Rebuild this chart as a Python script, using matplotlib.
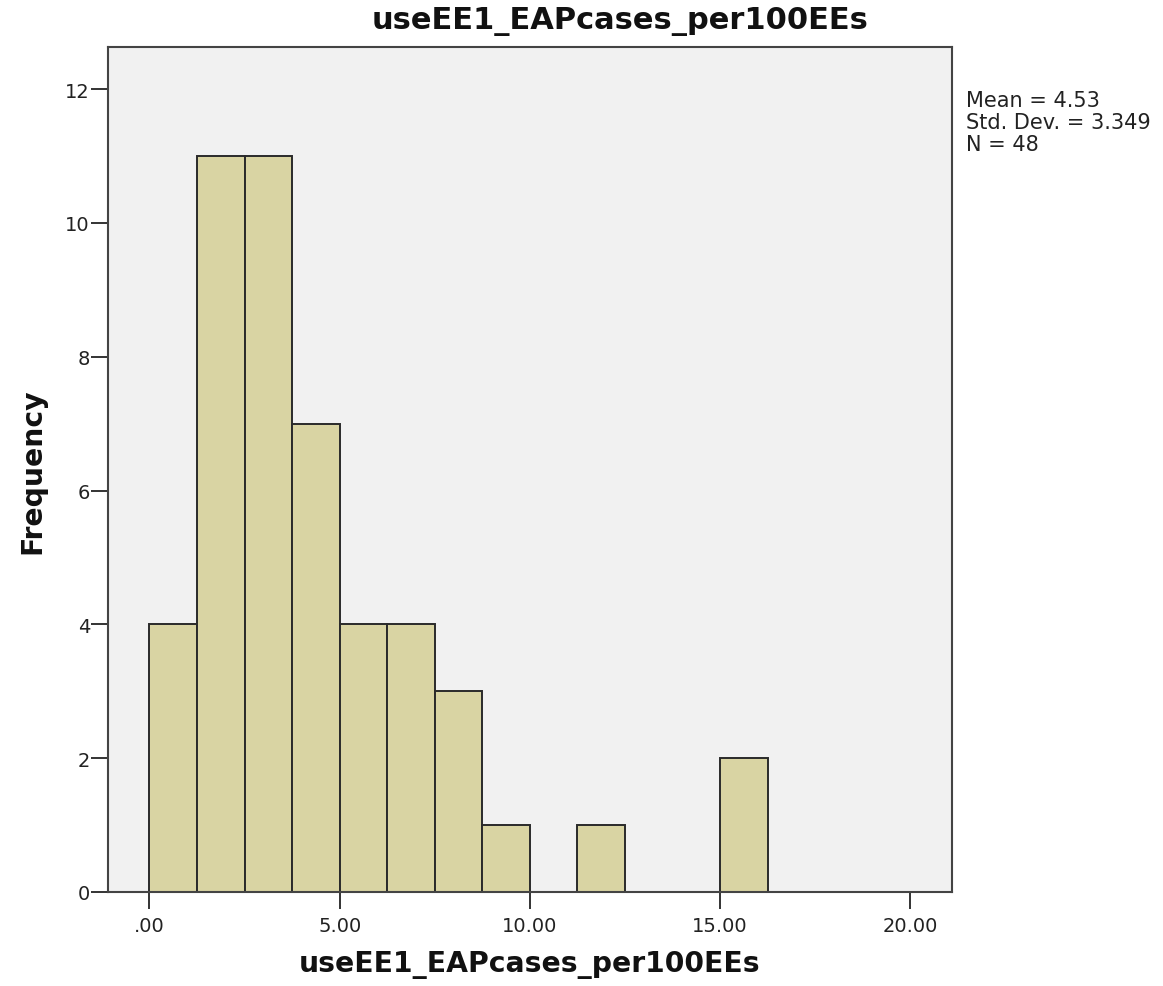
import matplotlib
matplotlib.use("Agg")
import matplotlib.pyplot as plt
import numpy as np

# Data
bin_edges = [0.0, 1.25, 2.5, 3.75, 5.0, 6.25, 7.5, 8.75, 10.0, 11.25, 12.5, 13.75, 15.0, 16.25]
counts = [4, 11, 11, 7, 4, 4, 3, 1, 0, 1, 0, 0, 2]
x_ticks = [0, 5, 10, 15, 20]
x_tick_labels = [".00", "5.00", "10.00", "15.00", "20.00"]
y_ticks = [0, 2, 4, 6, 8, 10, 12]
title = "useEE1_EAPcases_per100EEs"
xlabel = "useEE1_EAPcases_per100EEs"
ylabel = "Frequency"
stats_text = "Mean = 4.53\nStd. Dev. = 3.349\nN = 48"

W, H = 1163, 987
fig = plt.figure(figsize=(W / 100, H / 100), dpi=100)
left, right, top, bottom = 108, 952, 48, 893
ax = fig.add_axes([left / W, 1 - bottom / H, (right - left) / W, (bottom - top) / H])
ax.set_facecolor("#F1F1F1")

edges = np.array(bin_edges)
widths = np.diff(edges)
for x0, w, c in zip(edges[:-1], widths, counts):
    if c > 0:
        ax.bar(x0, c, width=w, align="edge", color="#D9D4A3", edgecolor="#2a2a2a", linewidth=1.4)

ax.set_xlim(-1.09, 21.1)
ax.set_ylim(0, 12.63)
ax.set_xticks(x_ticks)
ax.set_xticklabels(x_tick_labels)
ax.set_yticks(y_ticks)
ax.tick_params(axis="both", direction="out", length=12, width=1.4, color="#333333",
               labelsize=14, labelcolor="#222222")
ax.tick_params(axis="x", pad=5)
ax.tick_params(axis="y", pad=1)
for s in ax.spines.values():
    s.set_color("#444444")
    s.set_linewidth(1.5)

fig.text(620 / W, 1 - 22 / H, title, ha="center", va="center", fontsize=22, fontweight="bold", color="#111111")
fig.text(530 / W, 1 - 965 / H, xlabel, ha="center", va="center", fontsize=20.3, fontweight="bold", color="#111111")
fig.text(32 / W, 1 - 471 / H, ylabel, ha="center", va="center", rotation=90, fontsize=20.3, fontweight="bold", color="#111111")
fig.text(966 / W, 1 - 91 / H, stats_text, ha="left", va="top", fontsize=15, color="#222222", linespacing=1.13)

fig.savefig("out.png", dpi=100)
